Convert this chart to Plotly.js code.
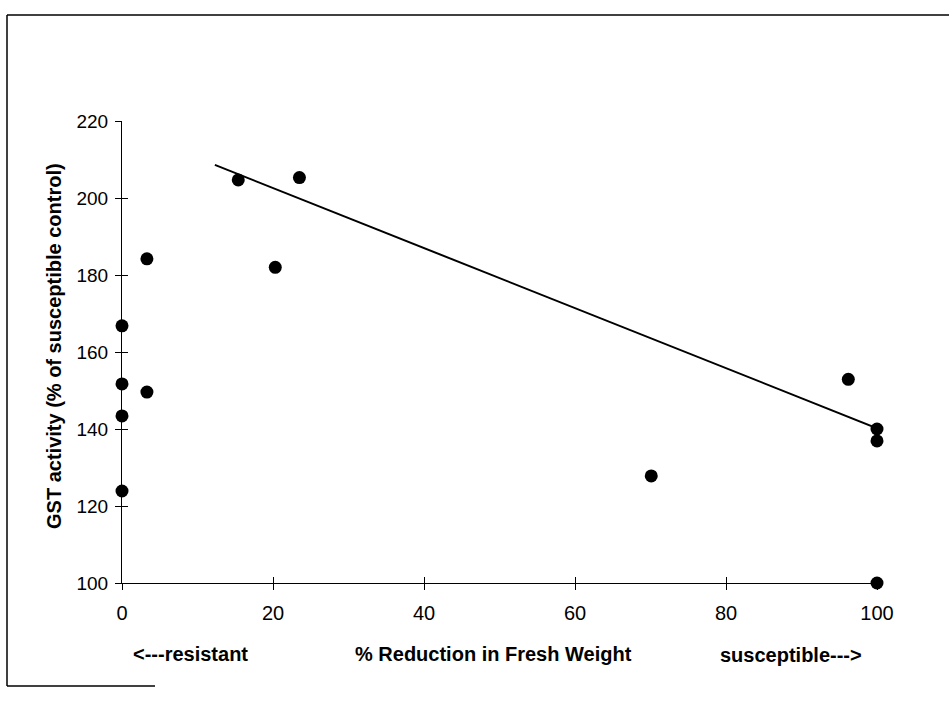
<!DOCTYPE html>
<html>
<head>
<meta charset="utf-8">
<script src="https://cdn.plot.ly/plotly-3.0.1.min.js"></script>
<style>
  html, body { margin: 0; padding: 0; background: #fff; }
  #chart { width: 949px; height: 709px; }
</style>
</head>
<body>
<div id="chart"></div>
<script>
// ---- data ----
const reductionPct = [0, 0, 0, 0, 3.3, 3.3, 15.4, 20.3, 23.5, 70.1, 96.2, 100, 100, 100];
const gstActivity  = [123.9, 143.4, 151.7, 166.8, 184.2, 149.6, 204.7, 182.0, 205.3, 127.8, 152.9, 140.0, 136.9, 100];
const trendX = [12.3, 100];
const trendY = [208.6, 140.2];
const xTicks = [0, 20, 40, 60, 80, 100];
const yTicks = [100, 120, 140, 160, 180, 200, 220];
const yTitle = "GST activity (% of susceptible control)";
const xTitle = "% Reduction in Fresh Weight";
const leftLabel = "<---resistant";
const rightLabel = "susceptible--->";

// ---- layout geometry ----
const W = 949, H = 709;
const M = { l: 122, r: 72, t: 121, b: 126 };
const PW = W - M.l - M.r, PH = H - M.t - M.b;
const px = v => (v - M.l) / PW;          // pixel x -> paper
const py = v => (H - M.b - v) / PH;      // pixel y -> paper

const font = "Liberation Sans, Arial, Helvetica, sans-serif";

const traces = [
  {
    x: trendX, y: trendY, type: "scatter", mode: "lines",
    line: { color: "#000", width: 2 }, hoverinfo: "skip", showlegend: false
  },
  {
    x: reductionPct, y: gstActivity, type: "scatter", mode: "markers",
    marker: { color: "#000", size: 13 }, cliponaxis: false, showlegend: false
  },
  { // carrier for the inner tick overlay axes
    x: [null], y: [null], xaxis: "x2", yaxis: "y2", type: "scatter",
    mode: "markers", showlegend: false, hoverinfo: "skip"
  }
];

const axisCommon = {
  showgrid: false, zeroline: false, showline: true,
  linecolor: "#000", linewidth: 1, tickcolor: "#000", tickwidth: 1,
  ticks: "outside", ticklen: 6, fixedrange: true
};

const layout = {
  width: W, height: H,
  margin: M,
  paper_bgcolor: "#fff", plot_bgcolor: "#fff",
  font: { family: font, color: "#000" },
  showlegend: false,
  xaxis: Object.assign({}, axisCommon, {
    range: [0, 100], tickmode: "array", tickvals: xTicks,
    ticktext: xTicks.map(String),
    tickfont: { family: font, size: 20, color: "#000" },
    ticklabelstandoff: 6
  }),
  yaxis: Object.assign({}, axisCommon, {
    range: [100, 220], tickmode: "array", tickvals: yTicks,
    ticktext: yTicks.map(String),
    tickfont: { family: font, size: 19, color: "#000" },
    ticklabelstandoff: 3
  }),
  xaxis2: {
    overlaying: "x", matches: "x", anchor: "y2", side: "bottom",
    range: [0, 100], tickmode: "array", tickvals: xTicks,
    ticks: "inside", ticklen: 6, tickcolor: "#000", showticklabels: false,
    showgrid: false, zeroline: false, showline: false, fixedrange: true
  },
  yaxis2: {
    overlaying: "y", matches: "y", anchor: "x2", side: "left",
    range: [100, 220], tickmode: "array", tickvals: yTicks,
    ticks: "inside", ticklen: 6, tickcolor: "#000", showticklabels: false,
    showgrid: false, zeroline: false, showline: false, fixedrange: true
  },
  annotations: [
    {
      text: yTitle, xref: "paper", yref: "paper", x: px(54), y: py(346),
      xanchor: "center", yanchor: "middle", textangle: -90, showarrow: false,
      font: { family: font, size: 20, color: "#000", weight: "bold" }
    },
    {
      text: leftLabel, xref: "paper", yref: "paper", x: px(190), y: py(654),
      xanchor: "center", yanchor: "middle", showarrow: false,
      font: { family: font, size: 20, color: "#000", weight: "bold" }
    },
    {
      text: xTitle, xref: "paper", yref: "paper", x: px(493), y: py(654),
      xanchor: "center", yanchor: "middle", showarrow: false,
      font: { family: font, size: 20, color: "#000", weight: "bold" }
    },
    {
      text: rightLabel, xref: "paper", yref: "paper", x: px(791), y: py(655),
      xanchor: "center", yanchor: "middle", showarrow: false,
      font: { family: font, size: 20, color: "#000", weight: "bold" }
    }
  ],
  shapes: [
    { type: "line", xref: "paper", yref: "paper", x0: px(7), x1: px(960), y0: py(15), y1: py(15),
      line: { color: "#000", width: 1.5 } },
    { type: "line", xref: "paper", yref: "paper", x0: px(7), x1: px(7), y0: py(15), y1: py(686),
      line: { color: "#000", width: 1.5 } },
    { type: "line", xref: "paper", yref: "paper", x0: px(7), x1: px(155), y0: py(686), y1: py(686),
      line: { color: "#000", width: 1.5 } }
  ]
};

Plotly.newPlot("chart", traces, layout, { staticPlot: true, displayModeBar: false });
</script>
</body>
</html>
